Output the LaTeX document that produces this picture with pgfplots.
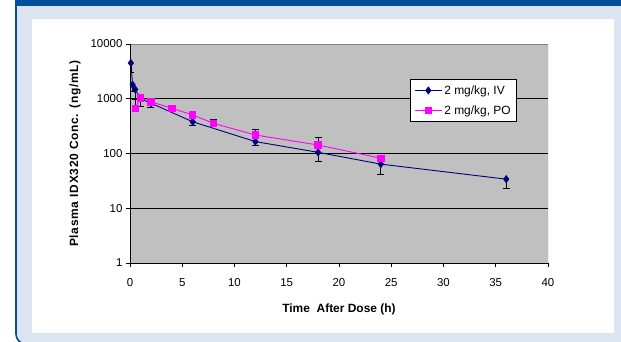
\documentclass[border=0pt]{standalone}
\usepackage{fontspec}
\setmainfont{Liberation Sans}
\usepackage{pgfplots}
\pgfplotsset{compat=1.18}
\usepackage{pgfplotstable}

\definecolor{navyc}{HTML}{000080}
\definecolor{magc}{HTML}{FF00FF}
\definecolor{plotbg}{HTML}{C0C0C0}
\definecolor{panel}{HTML}{DCE3F1}
\definecolor{frameblue}{HTML}{02509B}
\definecolor{framegray}{HTML}{808080}

\pgfplotstableread{
t c e
0.083 4500 1500
0.25 1800 450
0.5 1480 500
1 1000 280
2 830 140
6 380 50
12 165 22
18 105 34
24 64 22
36 34 11
}\ivdata

\pgfplotstableread{
t c e
0.5 660 300
1 1040 100
2 880 60
4 670 30
6 507 45
8 355 70
12 218 60
18 143 52
24 82 3
}\podata

\begin{document}
\begin{tikzpicture}
\useasboundingbox (0,0) rectangle (621bp,342bp);
\begin{scope}
\clip (0,0) rectangle (621bp,342bp);
\fill[white] (0,0) rectangle (621bp,342bp);
\fill[panel, rounded corners=10bp] (16bp,-2bp) rectangle (640bp,340bp);
\draw[frameblue, line width=1.6bp, rounded corners=10bp] (16bp,345bp) -- (16bp,-2bp) -- (60bp,-2bp);
\fill[frameblue] (15bp,335.5bp) rectangle (621bp,342bp);
\fill[white] (32bp,9bp) rectangle (614bp,323bp);
\end{scope}
\begin{axis}[
  at={(130bp,79bp)}, anchor=south west,
  width=418bp, height=219bp, scale only axis,
  xmin=0, xmax=40, ymin=1, ymax=10000, ymode=log,
  xtick={0,5,...,40},
  ytick={1,10,100,1000,10000}, yticklabels={1,10,100,1000,10000},
  yminorticks=false,
  tick align=outside, major tick length=4bp,
  xtick pos=bottom, ytick pos=left,
  tick style={black, line width=0.7bp},
  axis background/.style={fill=plotbg},
  axis line style={draw=none},
  ymajorgrids, major grid style={black, line width=0.9bp},
  ticklabel style={font=\fontsize{11.5}{13}\selectfont},
  xticklabel style={yshift=-8bp},
  /pgf/number format/assume math mode=true,
  label style={font=\bfseries\fontsize{12}{14}\selectfont},
  xlabel={Time~ After Dose (h)},
  ylabel={\addfontfeatures{LetterSpace=6}Plasma IDX320 Conc. (ng/mL)},
  xlabel style={at={(axis description cs:0.5,-0.212)}, anchor=center},
  ylabel style={at={(axis description cs:-0.1316,0.5)}, anchor=center},
  legend style={at={(0.67,0.84)}, anchor=north west, draw=black, fill=white,
    font=\fontsize{12}{14}\selectfont, line width=0.7bp, inner sep=4bp, row sep=6bp},
  legend cell align=left,
  legend image code/.code={\draw[mark repeat=2,mark phase=2,#1] plot coordinates {(0bp,0bp) (13.5bp,0bp) (27bp,0bp)};},
]
\addplot[navyc, line width=0.9bp, mark=diamond*, mark size=3.4bp, mark options={fill=navyc, draw=navyc},
  error bars/.cd, y dir=minus, y explicit,
  error bar style={black, line width=0.7bp},
  error mark options={rotate=90, black, mark size=3.5bp, line width=0.7bp}]
  table[x=t, y=c, y error=e]{\ivdata};
\addlegendentry{2 mg/kg, IV}
\addplot[magc, line width=0.9bp, mark=square*, mark size=3.2bp, mark options={fill=magc, draw=magc},
  error bars/.cd, y dir=plus, y explicit,
  error bar style={black, line width=0.7bp},
  error mark options={rotate=90, black, mark size=3.5bp, line width=0.7bp}]
  table[x=t, y=c, y error=e]{\podata};
\addlegendentry{2 mg/kg, PO}
\draw[framegray, line width=0.9bp] (rel axis cs:0,1) -- (rel axis cs:1,1) -- (rel axis cs:1,0);
\draw[black, line width=0.9bp] (rel axis cs:0,1) -- (rel axis cs:0,0) -- (rel axis cs:1,0);
\end{axis}
\end{tikzpicture}
\end{document}
